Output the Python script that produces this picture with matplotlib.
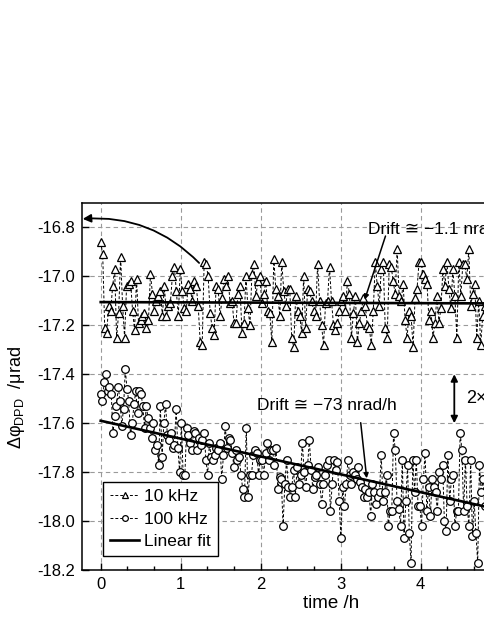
import numpy as np
import matplotlib
matplotlib.use('Agg')
import matplotlib.pyplot as plt
from matplotlib.ticker import MultipleLocator, FixedLocator, FormatStrFormatter

plt.rcParams['font.family'] = ['Liberation Sans', 'DejaVu Sans']
plt.rcParams['mathtext.fontset'] = 'custom'
plt.rcParams['mathtext.rm'] = 'Liberation Sans'
plt.rcParams['axes.unicode_minus'] = False

# phase readings in urad (samples evenly spaced in time)
phi_10k = [
    -16.86, -16.91, -17.21, -17.23, -17.12, -17.14, -17.04, -16.97, -17.25, -17.15,
    -16.92, -17.12, -17.25, -17.04, -17.03, -17.02, -17.14, -17.22, -17.01, -17.19,
    -17.18, -17.16, -17.15, -17.21, -17.18, -16.99, -17.07, -17.14, -17.10, -17.08,
    -17.06, -17.16, -17.04, -17.16, -17.12, -17.11, -17.00, -16.96, -17.06, -17.16,
    -16.97, -17.06, -17.13, -17.14, -17.03, -17.05, -17.10, -17.02, -17.04, -17.12,
    -17.27, -17.28, -16.94, -16.95, -17.00, -17.15, -17.21, -17.24, -17.04, -17.05,
    -17.16, -17.09, -17.01, -17.04, -17.00, -17.11, -17.10, -17.19, -17.19, -17.07,
    -17.04, -17.23, -17.19, -17.00,
    -17.13, -17.20, -16.99, -16.95, -17.08, -17.02, -17.00, -17.11, -17.07, -17.02,
    -17.14, -17.15, -17.27, -16.93, -17.05, -17.08, -17.16, -16.94, -17.06, -17.12,
    -17.05, -17.05, -17.25, -17.29, -17.08, -17.14, -17.16, -17.23, -17.00, -17.21,
    -17.05, -17.06, -17.10, -17.14, -17.16, -16.95, -17.10, -17.20, -17.28, -17.11,
    -17.10, -16.96, -17.10, -17.20, -17.22, -17.19, -17.14, -17.10, -17.08, -17.14,
    -17.02, -17.07, -17.25, -17.15, -17.08, -17.27, -17.19, -17.14, -17.09, -17.12,
    -17.20, -17.21, -17.28, -17.14, -16.94, -17.04, -17.12, -16.97, -16.94, -17.21,
    -17.25, -16.95, -16.96, -17.02, -17.07, -16.89, -17.08, -17.10, -17.03, -17.18,
    -17.25, -17.14, -17.16, -17.29, -17.09, -17.05, -16.94, -16.94, -16.99, -17.01,
    -17.03, -17.18, -17.14, -17.25, -17.19, -17.08, -17.19, -17.13, -16.97, -17.04,
    -16.94, -17.05, -17.13, -16.97, -17.08, -17.25, -16.94, -17.08, -16.95, -16.95,
    -17.01, -16.89, -17.12, -17.07, -17.03, -17.25, -17.10, -17.28, -17.16, -17.12,
]

phi_100k = [
    -17.48, -17.51, -17.43, -17.40, -17.47, -17.45, -17.48, -17.64, -17.57, -17.53,
    -17.45, -17.51, -17.61, -17.54, -17.38, -17.46, -17.51, -17.65, -17.60, -17.52,
    -17.47, -17.56, -17.47, -17.48, -17.53, -17.62, -17.53, -17.58, -17.62, -17.66,
    -17.60, -17.71, -17.69, -17.77, -17.53, -17.74, -17.60, -17.52, -17.65, -17.67,
    -17.64, -17.70, -17.69, -17.54, -17.70, -17.80, -17.60, -17.81, -17.81, -17.62,
    -17.65, -17.68, -17.71, -17.63, -17.64, -17.71, -17.66, -17.69, -17.67, -17.64,
    -17.75, -17.81, -17.68, -17.74, -17.75, -17.73, -17.70, -17.71, -17.68, -17.83,
    -17.73, -17.61, -17.70, -17.66, -17.67, -17.72, -17.78, -17.71, -17.75, -17.74,
    -17.81, -17.87, -17.90,
    -17.62, -17.90, -17.81, -17.81, -17.73, -17.71, -17.72, -17.81, -17.75, -17.75,
    -17.81, -17.72, -17.68, -17.75, -17.71, -17.71, -17.77, -17.70, -17.87, -17.82,
    -17.83, -18.02, -17.85, -17.75, -17.86, -17.90, -17.86, -17.79, -17.90, -17.78,
    -17.85, -17.81, -17.68, -17.80, -17.86, -17.77, -17.67, -17.79, -17.87, -17.82,
    -17.81, -17.78, -17.85, -17.93, -17.85, -17.81, -17.77, -17.75, -17.96, -17.85,
    -17.75, -17.79, -17.76, -17.92, -18.07, -17.86, -17.94, -17.85, -17.75, -17.81,
    -17.85, -17.80, -17.81, -17.83, -17.78, -17.84, -17.86, -17.90, -17.87, -17.90,
    -17.88, -17.98, -17.85, -17.88, -17.93, -17.90, -17.88, -17.73, -17.92, -17.88,
    -17.81, -18.02, -17.96, -17.96, -17.64, -17.71, -17.92, -17.95, -18.02, -17.75,
    -18.07, -17.92, -17.77, -18.05, -18.17, -17.75, -17.88, -17.75, -17.94, -17.94,
    -18.02, -17.83, -17.72, -17.96, -17.86, -17.98, -17.83, -17.86, -17.88, -17.96,
    -17.80, -17.83, -17.77, -18.00, -18.04, -17.73, -17.92, -17.83, -17.81, -18.02,
    -17.96, -17.96, -17.64, -17.71, -17.96, -17.75, -17.94, -18.02, -17.75, -18.06,
    -17.92, -18.05, -18.17, -17.77, -17.88, -17.83, -17.94,
]
t_last = 4.8  # h, last sample visible
x_ticks = [0, 1, 2, 3, 4]

# linear fits: (offset urad, slope urad/h)
fit_10k = (-17.105, -0.0011)
fit_100k = (-17.59, -0.073)

t10 = np.linspace(0, t_last, len(phi_10k))
t100 = np.linspace(0, t_last, len(phi_100k))

fig = plt.figure(figsize=(4.85, 6.27), dpi=100)
# axes runs past the right edge of the picture (cropped figure)
ax = fig.add_axes([82/485, 57/627, 442.7/485, 367/627])
ax.set_xlim(-0.234, 5.3)
ax.set_ylim(-18.2, -16.7)

ax.grid(True, which='major', color='#9a9a9a', linestyle=(0, (4, 3)), linewidth=0.8)
ax.set_axisbelow(True)

dash = (0, (3, 2))
l1, = ax.plot(t10, phi_10k, color='k', lw=0.7, ls=dash, marker='^', ms=6,
              mfc='white', mec='k', mew=0.9, label='10 kHz')
l2, = ax.plot(t100, phi_100k, color='k', lw=0.7, ls=dash, marker='o', ms=5.5,
              mfc='white', mec='k', mew=0.9, label='100 kHz')
tt = np.array([0, 5.3])
l3, = ax.plot(tt, fit_10k[0] + fit_10k[1]*tt, 'k-', lw=1.9, label='Linear fit')
ax.plot(tt, fit_100k[0] + fit_100k[1]*tt, 'k-', lw=1.9)

ax.xaxis.set_major_locator(FixedLocator(x_ticks))
ax.xaxis.set_minor_locator(MultipleLocator(1/3))
ax.yaxis.set_major_locator(MultipleLocator(0.2))
ax.yaxis.set_major_formatter(FormatStrFormatter('%.1f'))
ax.tick_params(which='both', direction='in', width=1, labelsize=12, top=False, right=False)
ax.tick_params(which='major', length=5, pad=5)
ax.tick_params(which='minor', length=3)
for s in ax.spines.values():
    s.set_linewidth(1.1)

ax.set_xlabel('time /h', fontsize=13.5, va='top')
ax.xaxis.set_label_coords(0.562, -0.068)
ax.set_ylabel('Δφ$_{\\mathrm{DPD}}$  /μrad', fontsize=13)
ax.yaxis.set_label_coords(-0.125, 0.47)

leg = ax.legend(handles=[l1, l2, l3], loc='lower left', bbox_to_anchor=(0.047, 0.038),
                borderaxespad=0, fontsize=12.5, frameon=True, fancybox=False,
                framealpha=1, edgecolor='k', handlelength=1.7, handletextpad=0.3,
                labelspacing=0.42, borderpad=0.4, markerscale=0.75)
leg.get_frame().set_linewidth(1)

# curved arrow to the axis
ax.annotate('', xy=(-0.225, -16.765), xytext=(1.23, -16.945),
            arrowprops=dict(arrowstyle='-|>', color='k', lw=1.3, mutation_scale=12,
                            connectionstyle='arc3,rad=0.23', shrinkA=0, shrinkB=0))

ax.text(3.34, -16.827, 'Drift ≅ −1.1 nrad/h', fontsize=12.5, ha='left', va='baseline')
ax.annotate('', xy=(3.30, -17.095), xytext=(3.56, -16.835),
            arrowprops=dict(arrowstyle='-|>', color='k', lw=1.1, mutation_scale=7,
                            shrinkA=0, shrinkB=0))

ax.text(1.95, -17.548, 'Drift ≅ −73 nrad/h', fontsize=12.5, ha='left', va='baseline')
ax.annotate('', xy=(3.325, -17.825), xytext=(3.25, -17.598),
            arrowprops=dict(arrowstyle='-|>', color='k', lw=1.1, mutation_scale=7,
                            shrinkA=0, shrinkB=0))

ax.annotate('', xy=(4.42, -17.4), xytext=(4.42, -17.6),
            arrowprops=dict(arrowstyle='<|-|>', color='k', lw=1.3, mutation_scale=10,
                            shrinkA=0, shrinkB=0))
ax.text(4.566, -17.5, '2×', fontsize=13, ha='left', va='center')

fig.savefig('out.png', dpi=100)
